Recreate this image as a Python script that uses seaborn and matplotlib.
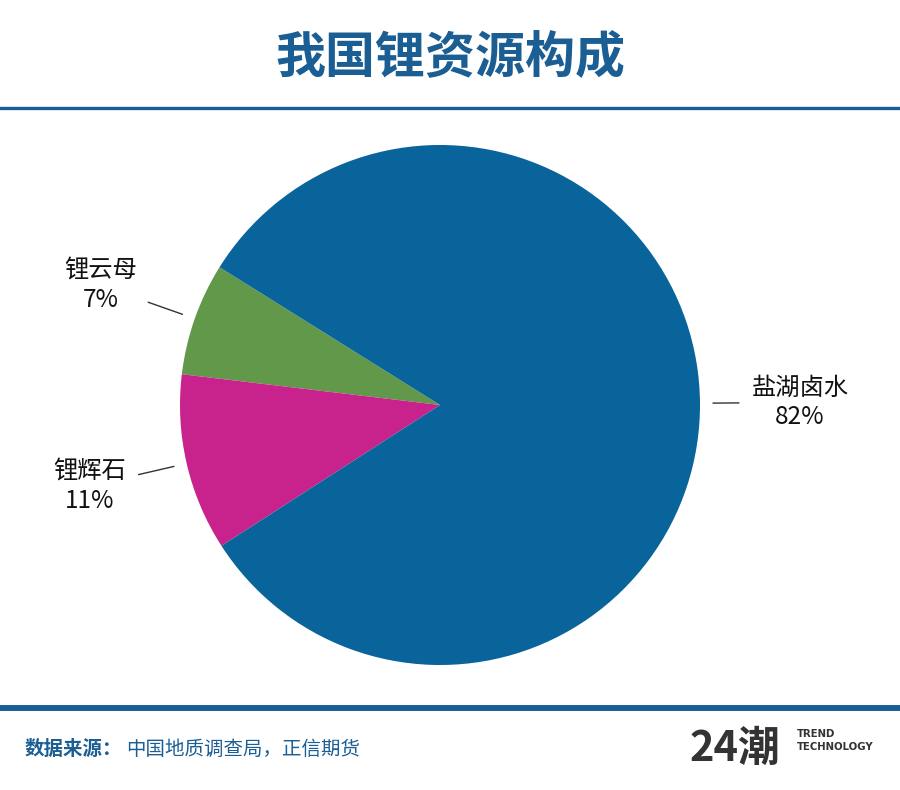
import numpy as np
import seaborn as sns
import matplotlib.pyplot as plt
from matplotlib.lines import Line2D

# data
categories = ['锂云母', '锂辉石', '盐湖卤水']
shares = [7, 11, 82]
colors = ['#62984a', '#c8238c', '#08649a']

sns.set_theme(style="white")
plt.rcParams['font.family'] = ['Noto Sans CJK SC', 'DejaVu Sans']

fig = plt.figure(figsize=(9, 7.9), dpi=100)

# pie axes: centre at (440, 405) px, radius 260 px
L = 1.6
W = 2 * L * 260
cx, cy = 440, 790 - 405
ax = fig.add_axes([(cx - W / 2) / 900, (cy - W / 2) / 790, W / 900, W / 790])

wedges, texts = ax.pie(shares, labels=[f'{c}\n{v}%' for c, v in zip(categories, shares)],
                       colors=colors, startangle=148, counterclock=True,
                       wedgeprops={'linewidth': 0},
                       labeldistance=1.385, textprops={'fontsize': 17.5, 'color': '#111111',
                                                       'linespacing': 1.15})
for t in texts:
    t.set_horizontalalignment('center')
    t.set_verticalalignment('center')

# leader lines
for w in wedges:
    mid = np.deg2rad((w.theta1 + w.theta2) / 2)
    r2 = 1.15 if abs(np.cos(mid)) > 0.99 else 1.19
    ax.plot([1.05 * np.cos(mid), r2 * np.cos(mid)], [1.05 * np.sin(mid), r2 * np.sin(mid)],
            color='#333333', lw=1)

ax.set_xlim(-L, L)
ax.set_ylim(-L, L)
ax.axis('off')

# title and rules
fig.text(0.5, 1 - 58 / 790, '我国锂资源构成', ha='center', va='center',
         fontsize=36, fontweight='bold', color='#1b5e93')
fig.add_artist(Line2D([0, 1], [1 - 108 / 790] * 2, color='#1a5f94', lw=2.4))
fig.add_artist(Line2D([0, 1], [1 - 708 / 790] * 2, color='#1a5f94', lw=4.3))

# footer
fig.text(25 / 900, 1 - 749 / 790, '数据来源：', ha='left', va='center',
         fontsize=14, fontweight='bold', color='#1b5e93')
fig.text(126 / 900, 1 - 749 / 790, '中国地质调查局，正信期货', ha='left', va='center',
         fontsize=14, color='#1b5e93')
fig.text(690 / 900, 1 - 749 / 790, '24潮', ha='left', va='center',
         fontsize=30, fontweight='bold', color='#333333')
fig.text(797 / 900, 1 - 734 / 790, 'TREND', ha='left', va='center',
         fontsize=7.3, fontweight='bold', color='#333333', family='DejaVu Sans')
fig.text(797 / 900, 1 - 747 / 790, 'TECHNOLOGY', ha='left', va='center',
         fontsize=7.3, fontweight='bold', color='#333333', family='DejaVu Sans')

fig.savefig('out.png', dpi=100)
